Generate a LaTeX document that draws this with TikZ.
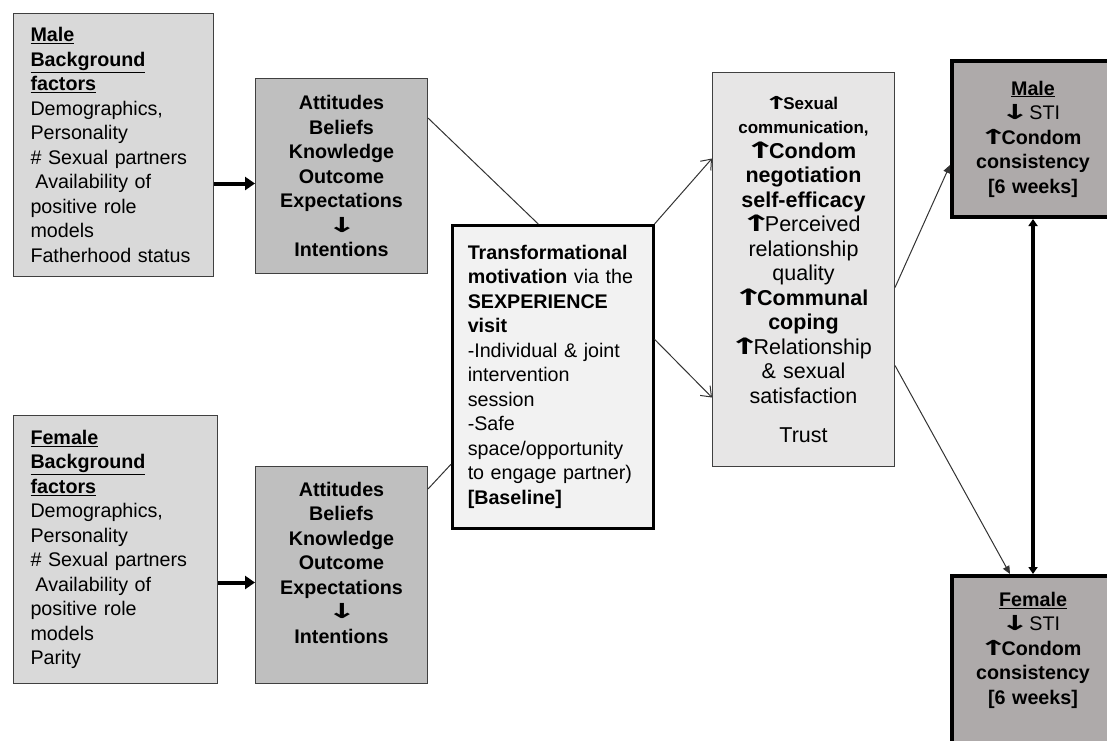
\documentclass[tikz,border=0pt]{standalone}
\usepackage{graphicx}
\usepackage{fontspec}
\setmainfont{Liberation Sans}
\newfontfamily\arrowfont{DejaVu Sans}
\usetikzlibrary{arrows.meta,calc}

\definecolor{bggray}{HTML}{D9D9D9}
\definecolor{attgray}{HTML}{BFBFBF}
\definecolor{ctrgray}{HTML}{F2F2F2}
\definecolor{medgray}{HTML}{E7E6E6}
\definecolor{outgray}{HTML}{AEAAAA}

\newcommand{\uparr}{\leavevmode\kern-0.3em\scalebox{1.8}[1.05]{\arrowfont\bfseries ↑}\kern-0.35em}
\newcommand{\dnarr}{\leavevmode\kern-0.3em\scalebox{1.8}[1.05]{\arrowfont\bfseries ↓}\kern-0.35em}
\newcommand{\boxfont}{\fontsize{19.7}{24.5}\selectfont}
\newcommand{\medfont}{\fontsize{21.5}{24.5}\selectfont}
\newcommand{\smallb}{\fontsize{17}{24.5}\selectfont\bfseries}

\begin{document}
\begin{tikzpicture}[x=1pt, y=-1pt,
    bgbox/.style={draw=black!75, line width=1pt, fill=bggray, anchor=north west,
      inner sep=0pt, align=left, font=\boxfont},
    attbox/.style={draw=black!75, line width=1pt, fill=attgray, anchor=north west,
      inner sep=0pt, align=center, text width=160pt, font=\boxfont\bfseries},
    ctrbox/.style={draw=black, line width=2.5pt, fill=ctrgray, anchor=north west,
      inner sep=0pt, align=left, font=\boxfont},
    medbox/.style={draw=black!75, line width=1pt, fill=medgray, anchor=north west,
      inner sep=0pt, align=center, font=\medfont},
    outbox/.style={draw=black, line width=4pt, fill=outgray, anchor=north west,
      inner sep=0pt, align=center, text width=150pt, font=\boxfont},
    thickarrow/.style={line width=4pt, -{Triangle[length=10pt,width=13pt]}},
    thinline/.style={line width=1pt, draw=black!80},
    openarrow/.style={line width=1pt, draw=black!80, -{Straight Barb[length=9pt,width=14pt]}},
    outarrow/.style={line width=1pt, draw=black!80, -{Triangle[length=8pt,width=7pt]}},
    dblarrow/.style={line width=4pt, {Triangle[length=7pt,width=9pt]}-{Triangle[length=7pt,width=9pt]}}]

    \useasboundingbox (0,0) rectangle (1107,740);
    \clip (0,0) rectangle (1107,740);

    % background factors
    \node[bgbox, minimum width=200pt, minimum height=263pt, text width=166pt] (bgM) at (13,13)
      {\textbf{\underline{Male}}\\ \textbf{\underline{Background}}\\ \textbf{\underline{factors}}\\
       Demographics,\\ Personality\\ \# Sexual partners\\ \hspace*{5pt}Availability of\\
       positive role\\ models\\ Fatherhood status};
    \node[bgbox, minimum width=204pt, minimum height=268pt, text width=170pt] (bgF) at (13,415)
      {\textbf{\underline{Female}}\\ \textbf{\underline{Background}}\\ \textbf{\underline{factors}}\\
       Demographics,\\ Personality\\ \# Sexual partners\\ \hspace*{5pt}Availability of\\
       positive role\\ models\\ Parity};

    % attitudes
    \node[attbox, minimum width=172pt, minimum height=195pt] (attM) at (255,78)
      {Attitudes\\ Beliefs\\ Knowledge\\ Outcome\\ Expectations\\ \dnarr\\ Intentions};
    \node[attbox, minimum width=172pt, minimum height=217pt] (attF) at (255,466)
      {Attitudes\\ Beliefs\\ Knowledge\\ Outcome\\ Expectations\\ \dnarr\\ Intentions\\ \mbox{}};

    % intervention
    \node[ctrbox, minimum width=201pt, minimum height=303pt, text width=170pt] (ctr) at (451,224)
      {\textbf{Transformational}\\ \textbf{motivation} via the\\ \textbf{SEXPERIENCE}\\ \textbf{visit}\\
       -Individual \& joint\\ intervention\\ session\\ -Safe\\ space/opportunity\\
       to engage partner)\\ \textbf{[Baseline]}};

    % mediators
    \node[medbox, minimum width=182pt, minimum height=394pt, text width=176pt] (med) at (712,72)
      {{\smallb\uparr Sexual}\\ {\smallb communication,}\\ \textbf{\uparr Condom}\\
       \textbf{negotiation}\\ \textbf{self-efficacy}\\ \uparr Perceived\\ relationship\\ quality\\
       \textbf{\uparr Communal}\\ \textbf{coping}\\ \uparr Relationship\\ \& sexual\\
       satisfaction\\[15pt] Trust};

    % outcomes
    \node[outbox, minimum width=162pt, minimum height=156pt] (mOut) at (950,59)
      {\textbf{\underline{Male}}\\ \dnarr\ STI\\ \textbf{\uparr Condom}\\ \textbf{consistency}\\
       \textbf{[6 weeks]}};
    \node[outbox, minimum width=162pt, minimum height=180pt] (fOut) at (950,574)
      {\textbf{\underline{Female}}\\ \dnarr\ STI\\ \textbf{\uparr Condom}\\ \textbf{consistency}\\
       \textbf{[6 weeks]}\\[11.5pt] \mbox{}};

    \draw[thickarrow] ([yshift=-38.5pt]bgM.east) -- ([yshift=-7.5pt]attM.west);
    \draw[thickarrow] ([yshift=-33pt]bgF.east) -- ([yshift=-7.5pt]attF.west);

    \draw[thinline] ([yshift=-40pt]attM.north east) -- ([xshift=-14.5pt]ctr.north);
    \draw[thinline] ([yshift=-23pt]attF.north east) -- ([yshift=-87.5pt]ctr.west);

    \draw[openarrow] (ctr.north east) -- ([yshift=111pt]med.west);
    \draw[openarrow] ([yshift=37.5pt]ctr.east) -- ([yshift=-128pt]med.west);

    \draw[outarrow] ([yshift=-18pt]med.east) -- ([yshift=-26pt]mOut.west);
    \draw[outarrow] ([yshift=-96pt]med.east) -- ([xshift=-23pt]fOut.north);

    \draw[dblarrow] (mOut.south) -- (fOut.north);
\end{tikzpicture}
\end{document}
